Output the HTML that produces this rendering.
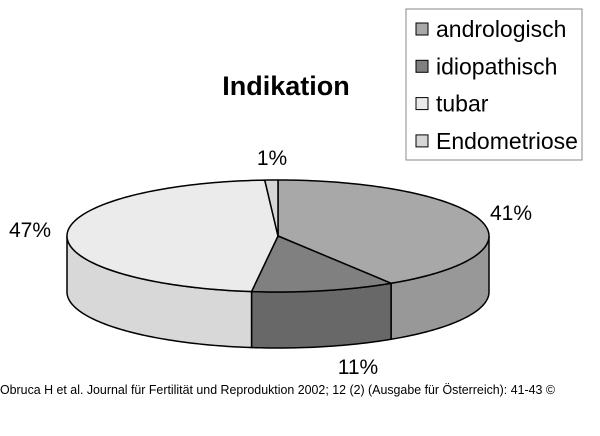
<!DOCTYPE html>
<html><head><meta charset="utf-8"><style>
html,body{margin:0;padding:0;background:#fff}
svg{display:block;font-family:"Liberation Sans",sans-serif}
</style></head><body>
<svg width="600" height="436" viewBox="0 0 600 436">
<text x="286" y="95" font-size="27" font-weight="bold" text-anchor="middle">Indikation</text>
<g id="pie"></g>
<g>
<rect x="406" y="9" width="176" height="151" fill="#fff" stroke="#888"/>
<g id="legend"></g>
</g>
<text x="0" y="394" font-size="12.5" textLength="555" lengthAdjust="spacingAndGlyphs">Obruca H et al. Journal für Fertilität und Reproduktion 2002; 12 (2) (Ausgabe für Österreich): 41-43 ©</text>
</svg>
<script>
const categories=["andrologisch","idiopathisch","tubar","Endometriose"];
const values=[41,11,47,1];
const valueLabels=["41%","11%","47%","1%"];
const topColors=["#a8a8a8","#808080","#ebebeb","#d6d6d6"];
const sideColors=["#989898","#686868","#d8d8d8","#c8c8c8"];
const labelPos=[[511,220],[358,374],[30,237],[272,165]];
const cx=278,cy=236,rx=211,ry=56,depth=56;
const NS="http://www.w3.org/2000/svg";
const pie=document.getElementById('pie');
const total=values.reduce((a,b)=>a+b,0);
function pt(t,dy){return [cx+rx*Math.cos(t),cy+ry*Math.sin(t)+(dy||0)];}
function arcPts(a,b,dy){let s=[];const n=Math.max(2,Math.ceil(Math.abs(b-a)/0.02));for(let i=0;i<=n;i++){const p=pt(a+(b-a)*i/n,dy);s.push(p[0].toFixed(2)+","+p[1].toFixed(2));}return s;}
let angles=[];let acc=-Math.PI/2;
values.forEach(v=>{const a=acc,b=acc+v/total*2*Math.PI;angles.push([a,b]);acc=b;});
angles.forEach((ab,i)=>{
  const a=Math.max(ab[0],0),b=Math.min(ab[1],Math.PI);
  if(b<=a)return;
  const top=arcPts(a,b,0),bot=arcPts(b,a,depth);
  const p=document.createElementNS(NS,'polygon');
  p.setAttribute('points',top.concat(bot).join(' '));
  p.setAttribute('fill',sideColors[i]);p.setAttribute('stroke','#000');p.setAttribute('stroke-width','1.5');
  
  
  pie.appendChild(p);
});
angles.forEach((ab,i)=>{
  const pts=[cx+","+cy].concat(arcPts(ab[0],ab[1],0));
  const p=document.createElementNS(NS,'polygon');
  p.setAttribute('points',pts.join(' '));
  p.setAttribute('fill',topColors[i]);p.setAttribute('stroke','#000');p.setAttribute('stroke-width','1.5');
  p.setAttribute('stroke-linejoin','round');
  
  
  pie.appendChild(p);
});
values.forEach((v,i)=>{
  const t=document.createElementNS(NS,'text');
  t.setAttribute('x',labelPos[i][0]);t.setAttribute('y',labelPos[i][1]);
  t.setAttribute('font-size','21');t.setAttribute('text-anchor','middle');
  t.textContent=valueLabels[i];
  
  
  pie.appendChild(t);
});
const lg=document.getElementById('legend');
categories.forEach((c,i)=>{
  const y=29+i*37.3;
  const r=document.createElementNS(NS,'rect');
  r.setAttribute('x',416);r.setAttribute('y',y-6);r.setAttribute('width',12);r.setAttribute('height',12);
  r.setAttribute('fill',topColors[i]);r.setAttribute('stroke','#000');
  
  
  lg.appendChild(r);
  const t=document.createElementNS(NS,'text');
  t.setAttribute('x',436);t.setAttribute('y',y+8);t.setAttribute('font-size','23');
  t.textContent=c;
  
  
  lg.appendChild(t);
});
</script>
</body></html>
